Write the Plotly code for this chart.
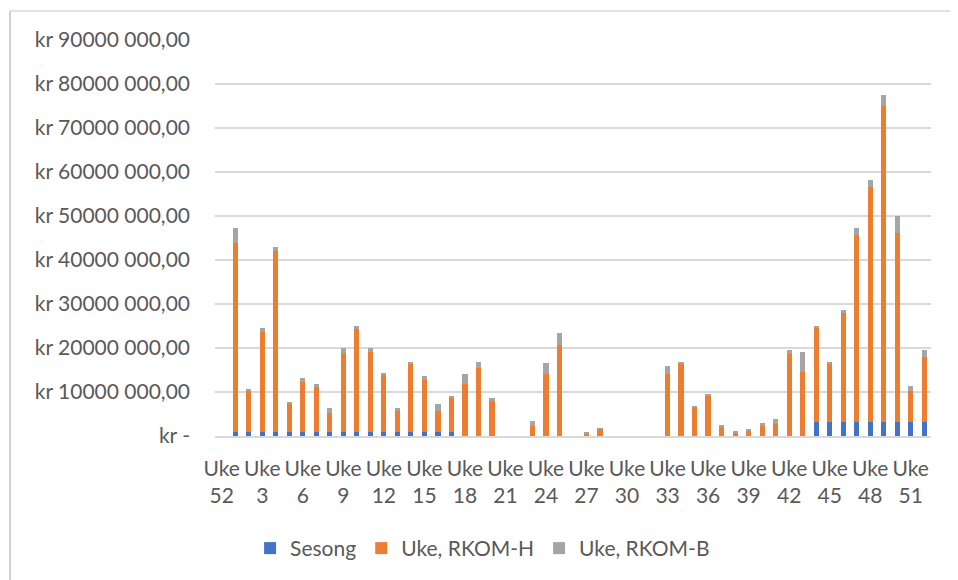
import plotly.graph_objects as go

# Categories (week labels); first "Uke 52" is previous year's week 52
weeks = ["Uke 52", "Uke 1", "Uke 2", "Uke 3", "Uke 4", "Uke 5", "Uke 6", "Uke 7", "Uke 8", "Uke 9",
         "Uke 10", "Uke 11", "Uke 12", "Uke 13", "Uke 14", "Uke 15", "Uke 16", "Uke 17", "Uke 18",
         "Uke 19", "Uke 20", "Uke 21", "Uke 22", "Uke 23", "Uke 24", "Uke 25", "Uke 26", "Uke 27",
         "Uke 28", "Uke 29", "Uke 30", "Uke 31", "Uke 32", "Uke 33", "Uke 34", "Uke 35", "Uke 36",
         "Uke 37", "Uke 38", "Uke 39", "Uke 40", "Uke 41", "Uke 42", "Uke 43", "Uke 44", "Uke 45",
         "Uke 46", "Uke 47", "Uke 48", "Uke 49", "Uke 50", "Uke 51", "Uke 52"]

# Values in millions of NOK
sesong_m = [0, 0.8, 0.8, 0.8, 0.8, 0.8, 0.8, 0.8, 0.8, 0.8,
            0.8, 0.8, 0.8, 0.8, 0.8, 0.8, 0.8, 0.8, 0, 0,
            0, 0, 0, 0, 0, 0, 0, 0, 0, 0,
            0, 0, 0, 0, 0, 0, 0, 0, 0, 0,
            0, 0, 0, 0, 3.2, 3.2, 3.2, 3.2, 3.2, 3.2,
            3.2, 3.2, 3.2]
rkom_h_m = [0, 43.0, 9.45, 22.9, 41.3, 6.6, 11.4, 10.3, 4.4, 18.0,
            23.5, 18.2, 13.0, 4.8, 15.5, 12.0, 4.8, 7.95, 11.9, 15.5,
            7.9, 0, 0, 2.3, 14.05, 20.7, 0, 0.6, 1.75, 0,
            0, 0, 0, 14.05, 16.5, 6.6, 9.3, 2.2, 0.85, 1.2,
            2.35, 2.7, 18.75, 14.6, 21.5, 13.2, 24.8, 42.4, 53.3, 71.9,
            43.0, 7.05, 14.8]
rkom_b_m = [0, 3.5, 0.25, 0.8, 0.8, 0.4, 0.9, 0.8, 1.2, 1.1,
            0.8, 0.9, 0.5, 0.8, 0.6, 0.9, 1.7, 0.25, 2.1, 1.4,
            0.8, 0, 0, 1.2, 2.65, 2.6, 0, 0.25, 0.05, 0,
            0, 0, 0, 1.75, 0.2, 0.1, 0.35, 0.1, 0.2, 0.25,
            0.55, 1.1, 0.75, 4.6, 0.3, 0.2, 0.6, 1.6, 1.6, 2.3,
            3.7, 1.05, 1.5]

y_tick_values = [0, 10e6, 20e6, 30e6, 40e6, 50e6, 60e6, 70e6, 80e6, 90e6]
y_tick_labels = ["kr -", "kr 10000 000,00", "kr 20000 000,00", "kr 30000 000,00", "kr 40000 000,00",
                 "kr 50000 000,00", "kr 60000 000,00", "kr 70000 000,00", "kr 80000 000,00",
                 "kr 90000 000,00"]

x_pos = list(range(len(weeks)))
x_tick_pos = x_pos[::3]
x_tick_text = [w.replace(" ", "<br>") for w in weeks[::3]]

M = 1e6
FONT = "Lato"
TXT = "#595959"
FS = 21

fig = go.Figure()
fig.add_trace(go.Bar(x=x_pos, y=[v * M for v in sesong_m], name="Sesong", marker_color="#4472C4"))
fig.add_trace(go.Bar(x=x_pos, y=[v * M for v in rkom_h_m], name="Uke, RKOM-H", marker_color="#ED7D31"))
fig.add_trace(go.Bar(x=x_pos, y=[v * M for v in rkom_b_m], name="Uke, RKOM-B", marker_color="#A5A5A5"))

fig.update_traces(marker_line_width=0)

fig.update_layout(
    width=958, height=580,
    barmode="stack", bargap=0.615,
    plot_bgcolor="white", paper_bgcolor="white",
    margin=dict(l=207, r=35, t=32, b=152),
    font=dict(family=FONT, size=FS, color=TXT),
    showlegend=True,
    legend=dict(orientation="h", x=0.049, xanchor="left", y=-0.284, yanchor="middle",
                font=dict(family=FONT, size=FS, color=TXT), bgcolor="rgba(0,0,0,0)",
                traceorder="normal"),
    xaxis=dict(range=[-0.5, len(weeks) - 0.5], tickmode="array", tickvals=x_tick_pos,
               ticktext=x_tick_text, showgrid=False, zeroline=False, showline=True,
               linecolor="#d9d9d9", linewidth=1.5, ticks="", ticklabelstandoff=13,
               tickfont=dict(family=FONT, size=FS, color=TXT)),
    yaxis=dict(range=[0, 90e6], tickmode="array", tickvals=y_tick_values, ticktext=y_tick_labels,
               showgrid=True, gridcolor="#d9d9d9", gridwidth=1.5, zeroline=False, showline=False,
               ticks="", ticklabelstandoff=24, tickfont=dict(family=FONT, size=FS, color=TXT)),
    shapes=[
        dict(type="line", xref="paper", yref="paper", x0=-0.2863, x1=-0.2863, y0=-0.38, y1=1.0733,
             line=dict(color="#d0d0d0", width=2)),
        dict(type="line", xref="paper", yref="paper", x0=-0.2863, x1=1.06, y0=1.0733, y1=1.0733,
             line=dict(color="#d9d9d9", width=1.5)),
    ],
)

fig.write_html("out.html")
